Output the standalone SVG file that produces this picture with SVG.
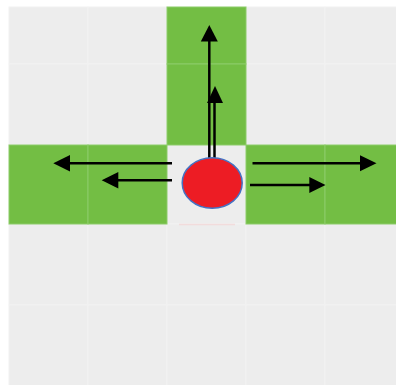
<svg xmlns="http://www.w3.org/2000/svg" width="396" height="385" viewBox="0 0 396 385">
<defs>
<style>
.g{fill:#EDEDED;stroke:#F2F2F2;stroke-width:1}
.v{fill:#73BE44;stroke:#8CCB68;stroke-width:1}
.ln{stroke:#000;stroke-width:2.5;fill:none}
.hd{fill:#000}
</style>
</defs>
<rect width="396" height="385" fill="#FFFFFF"/>
<g id="grid">
<rect class="g" x="9" y="7" width="79" height="57"/>
<rect class="g" x="88" y="7" width="79" height="57"/>
<rect class="g" x="246" y="7" width="79" height="57"/>
<rect class="g" x="325" y="7" width="79" height="57"/>
<rect class="g" x="9" y="64" width="79" height="81"/>
<rect class="g" x="88" y="64" width="79" height="81"/>
<rect class="g" x="246" y="64" width="79" height="81"/>
<rect class="g" x="325" y="64" width="79" height="81"/>
<rect class="g" x="167" y="145" width="79" height="79"/>
<rect class="g" x="9" y="224" width="79" height="81"/>
<rect class="g" x="88" y="224" width="79" height="81"/>
<rect class="g" x="167" y="224" width="79" height="81"/>
<rect class="g" x="246" y="224" width="79" height="81"/>
<rect class="g" x="325" y="224" width="79" height="81"/>
<rect class="g" x="9" y="305" width="79" height="81"/>
<rect class="g" x="88" y="305" width="79" height="81"/>
<rect class="g" x="167" y="305" width="79" height="81"/>
<rect class="g" x="246" y="305" width="79" height="81"/>
<rect class="g" x="325" y="305" width="79" height="81"/>
<rect class="v" x="167" y="7" width="79" height="57"/>
<rect class="v" x="167" y="64" width="79" height="81"/>
<rect class="v" x="9" y="145" width="79" height="79"/>
<rect class="v" x="88" y="145" width="79" height="79"/>
<rect class="v" x="246" y="145" width="79" height="79"/>
<rect class="v" x="325" y="145" width="79" height="79"/>
<line x1="179" y1="224.5" x2="235" y2="224.5" stroke="#F2DCDC" stroke-width="1.5"/>
</g>
<g id="connectors">
<line class="ln" x1="209.3" y1="160" x2="209.3" y2="40"/>
<polygon class="hd" points="209.3,25 200.8,41.5 217.8,41.5"/>
<line class="ln" x1="214.5" y1="160" x2="214.5" y2="101"/>
<polygon class="hd" points="215,86 207,103 223,103"/>
<line class="ln" x1="252.5" y1="163.3" x2="361" y2="163.3"/>
<polygon class="hd" points="376.5,163.3 360,155.3 360,171.3"/>
<line class="ln" x1="250" y1="185" x2="310" y2="185"/>
<polygon class="hd" points="325.5,185 309.3,177 309.3,193"/>
<line class="ln" x1="172" y1="163.3" x2="69" y2="163.3"/>
<polygon class="hd" points="53.3,163.3 70,155 70,171.6"/>
<line class="ln" x1="172" y1="180.3" x2="117" y2="180.3"/>
<polygon class="hd" points="101.7,180.3 118.3,172 118.3,188.6"/>
</g>
<g id="ball">
<ellipse cx="212.2" cy="183" rx="30" ry="25.3" fill="#ED1C24" stroke="#4472C4" stroke-width="1.5"/>
</g>
</svg>
